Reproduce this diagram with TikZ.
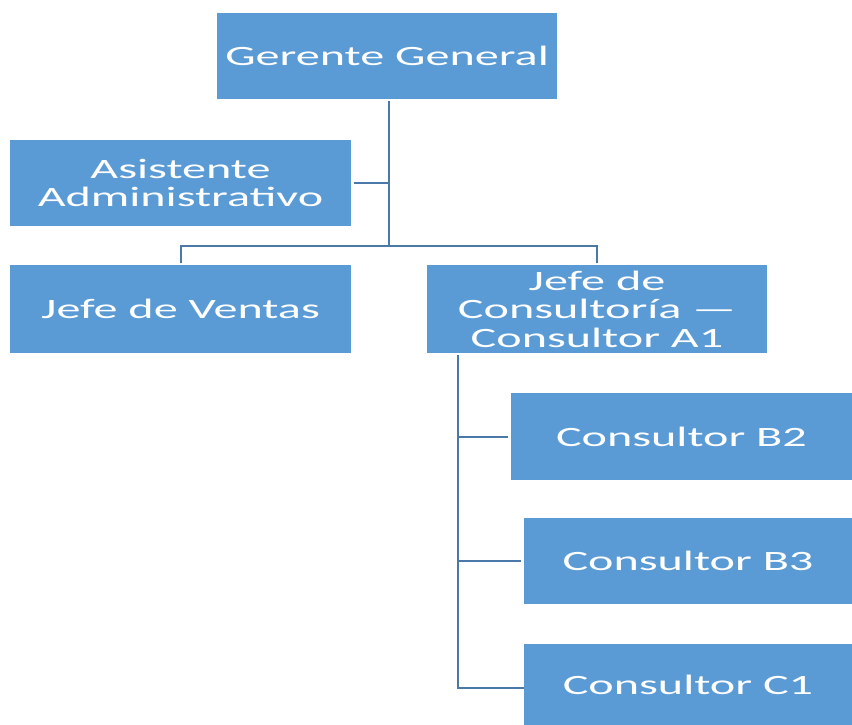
\documentclass[tikz,border=0pt]{standalone}
\usepackage{fontspec}
\setmainfont{Carlito}
\usepackage{graphicx}
\usepackage{tikz}
\usetikzlibrary{
    positioning,
    calc
}
\usepackage{xcolor}

\definecolor{boxblue}{HTML}{5B9BD5}
\definecolor{linkblue}{HTML}{4A78A8}

% the text of the chart is set wide
\newcommand{\wide}[1]{\scalebox{1.72}[1]{#1}}

\begin{document}
\begin{tikzpicture}[x=1pt, y=-1pt]
  \tikzset{
    rolebox/.style={rectangle, fill=boxblue, text=white, inner sep=0pt,
      align=center, font=\fontsize{28}{28.5}\selectfont},
    link/.style={draw=linkblue, line width=2pt}
  };
  \useasboundingbox (0,0) rectangle (852,725);

  % Boxes of the chart
  \node[rolebox, minimum width=340, minimum height=86] (gerente) at (387,56) {\wide{Gerente General}};
  \node[rolebox, minimum width=341, minimum height=86] (asistente) at (180.5,183) {\wide{Asistente}\\ \wide{Administrativo}};
  \node[rolebox, minimum width=341, minimum height=88] (ventas) at (180.5,309) {\wide{Jefe de Ventas}};
  \node[rolebox, minimum width=340, minimum height=88] (jefecons) at (597,309) {\wide{Jefe de}\\ \wide{Consultoría —}\\ \wide{Consultor A1}};
  \node[rolebox, minimum width=341, minimum height=87] (b2) at (681.5,436.5) {\wide{Consultor B2}};
  \node[rolebox, minimum width=328, minimum height=86] (b3) at (688,561) {\wide{Consultor B3}};
  \node[rolebox, minimum width=328, minimum height=81] (c1) at (688,684.5) {\wide{Consultor C1}};

  % Points where the lines split
  \coordinate (split) at (389,246);
  \coordinate (rail) at (458,355);

  % Lines under the Gerente General
  \draw[link, line width=2.6pt, shorten <=2pt] (gerente.south -| split) -- (split);
  \draw[link, shorten <=3pt] (asistente.east) -- (asistente.east -| split);
  \draw[link, shorten <=2pt, shorten >=2pt] (ventas.north) |- (split) -| (jefecons.north);

  % Lines under the Jefe de Consultoria
  \draw[link] (rail) |- ($(c1.west)+(0,3.5)$);
  \draw[link, shorten >=3pt] (rail |- b2.west) -- (b2.west);
  \draw[link, shorten >=3pt] (rail |- b3.west) -- (b3.west);
  \draw[link, shorten >=3pt] ($(rail |- c1.west)+(0,3.5)$) -- ($(c1.west)+(0,3.5)$);
\end{tikzpicture}
\end{document}
